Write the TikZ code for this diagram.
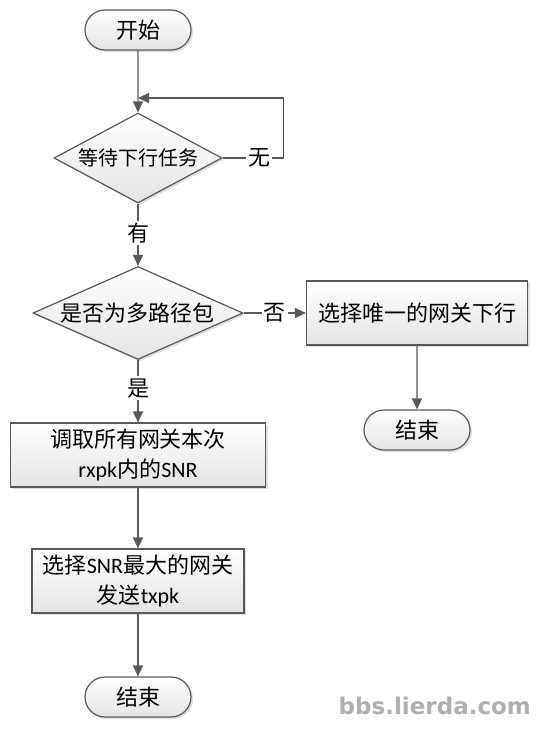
\documentclass[tikz,border=0pt]{standalone}
\usepackage{fontspec}
\setmainfont{Noto Sans CJK SC}
\newfontfamily\latfont{Carlito}
\newfontfamily\markfont{DejaVu Sans}
\usepackage{xcolor}
\definecolor{cline}{RGB}{89,89,89}
\definecolor{cfill}{RGB}{228,228,228}
\definecolor{cmark}{RGB}{175,175,175}
\usepackage{tikz}
\usetikzlibrary{positioning, shapes.geometric, shapes.misc, arrows.meta, shadows}
\tikzset{
x=0.5pt, y=-0.5pt,
Box/.style={
	draw=cline, line width=0.6pt,
	top color=white, bottom color=cfill,
	drop shadow={opacity=0.25, shadow xshift=1pt, shadow yshift=-1pt},
	align=center, font=\fontsize{11}{15}\selectfont,
	inner sep=0pt
},
Terminal/.style={
	Box,
	rounded rectangle,
	minimum width=53pt, minimum height=20pt
},
Process/.style={
	Box,
	rectangle,
	minimum height=32pt
},
Decision/.style={
	Box,
	diamond
},
Flow/.style={
	draw=cline, line width=0.6pt,
	-{Triangle[width=5pt, length=5.5pt]}
},
Tag/.style={
	fill=white, inner sep=1pt,
	font=\fontsize{11}{13}\selectfont
}
}
\begin{document}
\begin{tikzpicture}
	\useasboundingbox (0,0) rectangle (542,729);

	\node[Terminal] (start) at (138,30) {开始};
	\node[Decision, below of=start, node distance=64pt, minimum width=84pt, minimum height=45pt, aspect=1.87, font=\fontsize{10}{12}\selectfont] (wait) {等待下行任务};
	\coordinate[below of=start, node distance=34pt] (loop);

	\node[Decision, below of=wait, node distance=77.5pt, minimum width=105pt, minimum height=46.5pt, aspect=2.26] (multi) {是否为多路径包};
	\node[Process, right of=multi, node distance=139.5pt, minimum width=110.5pt] (single) {选择唯一的网关下行};
	\node[Terminal, below of=single, node distance=58.5pt] (end1) {结束};

	\node[Process, below of=multi, node distance=71pt, minimum width=127.5pt] (fetch) {调取所有网关本次\\{\latfont rxpk}内的{\latfont SNR}};
	\node[Process, below of=fetch, node distance=63pt, minimum width=106pt] (pick) {选择{\latfont SNR}最大的网关\\发送{\latfont txpk}};
	\node[Terminal, below of=pick, node distance=58pt] (end2) {结束};

	\draw[Flow] (start) -- (wait);
	\draw[Flow] (wait.east) -- node[Tag, pos=0.6] {无} ++(30.5pt,0) |- (loop);
	\draw[Flow] (wait) -- node[Tag, pos=0.47] {有} (multi);
	\draw[Flow] (multi) -- node[Tag] {否} (single);
	\draw[Flow] (single) -- (end1);
	\draw[Flow] (multi) -- node[Tag, pos=0.45] {是} (fetch);
	\draw[Flow] (fetch) -- (pick);
	\draw[Flow] (pick) -- (end2);

	\node[font=\markfont\bfseries\fontsize{11.5}{13}\selectfont, text=cmark, anchor=east] (mark) at (538,706) {bbs.lierda.com};
\end{tikzpicture}
\end{document}
